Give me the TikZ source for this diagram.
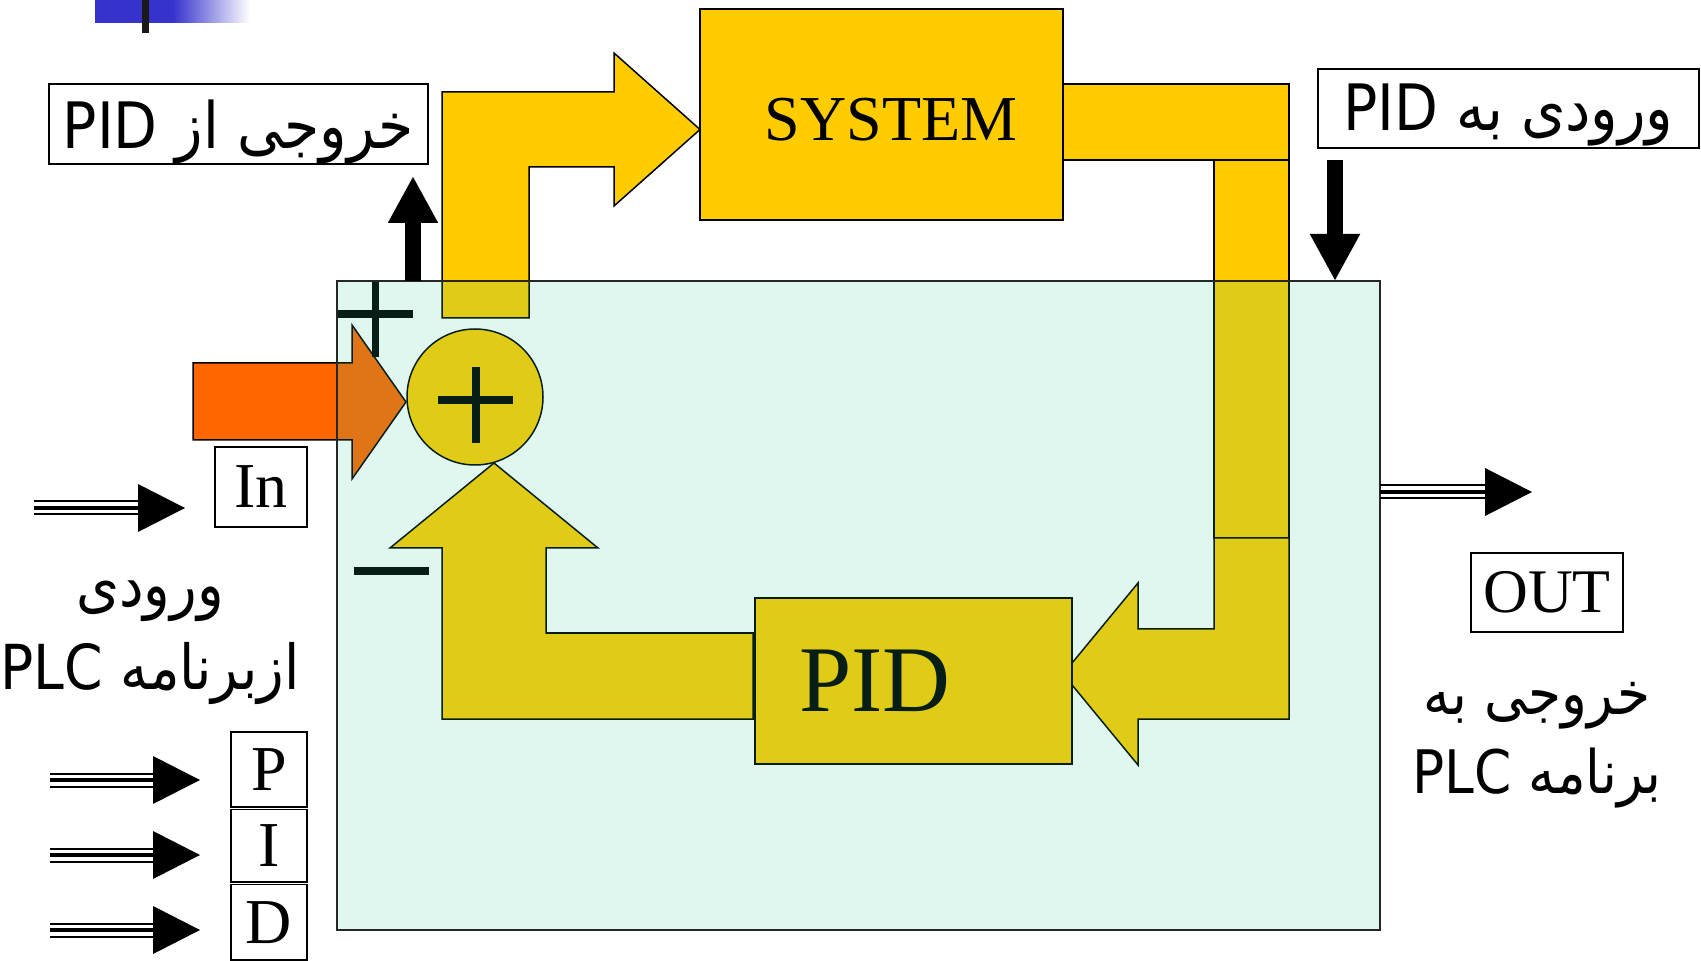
\documentclass[tikz,border=0pt]{standalone}
\usepackage{fontspec}
\setmainfont{Liberation Serif}
\newfontfamily\arabicfont[Script=Arabic,FakeStretch=0.89]{DejaVu Sans}
\TeXXeTstate=1
\usetikzlibrary{positioning,calc,arrows.meta}
\definecolor{sysyellow}{HTML}{FFCC00}
\definecolor{inorange}{HTML}{FF6600}
\definecolor{plctint}{RGB}{48,208,160}
\definecolor{slideblue}{HTML}{3633CC}

\begin{document}
\begin{tikzpicture}[x=0.5pt,y=-0.5pt,
    block/.style={draw=black,line width=0.75pt,fill=sysyellow},
    tag/.style={draw=black,line width=0.8pt,fill=white,inner sep=0pt},
    bigarrow/.style={line width=8pt,-{Triangle[length=23.5pt,width=23.5pt]}}]
    \useasboundingbox (0,0) rectangle (1701,961);
    \fill[white] (0,0) rectangle (1701,961);
    \fill[slideblue] (95,0) rectangle (174,23);
    \shade[left color=slideblue,right color=white] (173,0) rectangle (250,23);
    \fill[black!90] (142,0) rectangle (149,33);

    \node[tag,minimum width=189.5pt,minimum height=40pt,font=\arabicfont\fontsize{32pt}{38pt}\selectfont] (outlab) at (238.5,124) {\raisebox{-4pt}[\height][\depth]{\beginR خروجی از PID\endR}};
    \node[tag,minimum width=190.5pt,minimum height=39.5pt,font=\arabicfont\fontsize{32pt}{38pt}\selectfont] (inlab) at (1508.5,108.5) {\raisebox{-3pt}[\height][\depth]{\beginR ورودی به PID\endR}};

    \draw[block] (442,318) -- (442,92) -- (614,92) -- (614,53) -- (700,129.5) -- (614,206) -- (614,167) -- (529,167) -- (529,318) -- cycle;
    \node[block,minimum width=181.5pt,minimum height=105.5pt,font=\fontsize{32pt}{32pt}\selectfont] (system) at (881.5,114.5) {\hspace*{9.5pt}\raisebox{-2.5pt}[\height][\depth]{SYSTEM}};
    \draw[block] (1063,84) rectangle (1289,160);
    \draw[block] (1214,160) rectangle (1289,538);
    \draw[block] (1289,538) -- (1289,719) -- (1138,719) -- (1138,765) -- (1063,674) -- (1138,583) -- (1138,629) -- (1214,629) -- (1214,538) -- cycle;
    \node[block,minimum width=158.5pt,minimum height=83pt,font=\fontsize{47pt}{47pt}\selectfont] (pidblock) at (913.5,681) {PID\hspace*{38.5pt}};
    \draw[block] (753,719) -- (442,719) -- (442,548) -- (390,548) -- (494,463) -- (598,548) -- (546,548) -- (546,633) -- (753,633) -- cycle;
    \node[circle,block,minimum size=68pt,inner sep=0pt] (sum) at (475,397) {};
    \draw[block,fill=inorange] (193,363) -- (352,363) -- (352,325) -- (406,402) -- (352,479) -- (352,440) -- (193,440) -- cycle;

    \draw[line width=4pt] ($(sum)+(-37,3.5)$) -- ($(sum)+(38,3.5)$);
    \draw[line width=4pt] ($(sum)+(1,-30)$) -- ($(sum)+(1,46)$);
    \draw[line width=3.75pt] (337,314) -- (413,314);
    \draw[line width=3.75pt] (375.5,282) -- (375.5,357);
    \draw[line width=4pt] (354,571) -- (429,571);

    \node[draw=black!85,line width=0.8pt,fill=plctint,fill opacity=0.15,minimum width=521.5pt,minimum height=324.5pt,inner sep=0pt,outer sep=0pt] (plc) at (858.5,605.5) {};

    \draw[bigarrow] ($(plc.north west)+(76,0)$) -- (413,176);
    \draw[bigarrow] (1335,160) -- ($(plc.north east)+(-45,0)$);

    \node[tag,minimum width=46pt,minimum height=40pt,font=\fontsize{32pt}{32pt}\selectfont] (inbox) at (261,487) {In};
    \node[tag,minimum width=76pt,minimum height=39.5pt,font=\fontsize{31pt}{31pt}\selectfont] (outbox) at (1547,592.5) {OUT};
    \foreach \name/\txt/\yy/\hh in {pbox/P/769.5/37.5,ibox/I/845.75/36.25,dbox/D/922.25/37.75}
        \node[tag,minimum width=38pt,minimum height=\hh pt,font=\fontsize{32pt}{32pt}\selectfont] (\name) at (269,\yy) {\txt};

    \foreach \xa/\xb/\yy in {34/185/508,50/200/780,50/200/855,50/200/930,1380/1532/492} {
        \fill (\xb-47,\yy-24) -- (\xb,\yy) -- (\xb-47,\yy+24) -- cycle;
        \draw[line width=1pt] (\xa,\yy-6.5) -- (\xb-47,\yy-6.5);
        \draw[line width=2pt] (\xa,\yy) -- (\xb-47,\yy);
        \draw[line width=1pt] (\xa,\yy+6.5) -- (\xb-47,\yy+6.5);
    }

    \node[align=center,font=\arabicfont\fontsize{31pt}{41.5pt}\selectfont] (plcin) at (150,643) {\beginR ورودی\endR\\\beginR ازبرنامه \beginL PLC\endL\endR};
    \node[align=center,font=\arabicfont\fontsize{30pt}{39.5pt}\selectfont] (plcout) at (1537,745.5) {\beginR خروجی به\endR\\\beginR برنامه \beginL PLC\endL\endR};
\end{tikzpicture}
\end{document}
